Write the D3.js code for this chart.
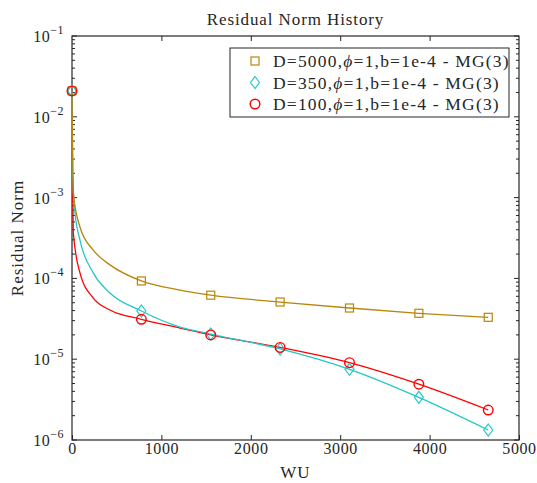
<!DOCTYPE html>
<html lang="en">
<head>
<meta charset="utf-8">
<title>Residual Norm History</title>
<script src="https://cdn.jsdelivr.net/npm/d3@7"></script>
<style>
  body { margin: 0; background: #fff; }
  text { font-family: "Liberation Serif", "DejaVu Serif", serif; fill: #262626; }
</style>
</head>
<body>
<div id="chart"></div>
<script>
// curve samples (WU, residual norm)
let wu5000 = [0, 8, 15, 89, 238, 425, 776, 1208, 1552, 2328, 3104, 3880, 4656]
let res5000 = [2.09e-2, 3.0e-3, 1.14e-3, 4.33e-4, 2.24e-4, 1.47e-4, 9.3e-5, 7.18e-5, 6.2e-5, 5.1e-5, 4.3e-5, 3.7e-5, 3.3e-5]
let wu350 = [0, 8, 34, 89, 238, 425, 776, 1208, 1552, 2328, 3104, 3880, 4656]
let res350 = [2.09e-2, 2.0e-3, 6.44e-4, 2.98e-4, 1.17e-4, 6.59e-5, 3.95e-5, 2.5e-5, 2.05e-5, 1.34e-5, 7.5e-6, 3.37e-6, 1.33e-6]
let wu100 = [8, 15, 89, 238, 425, 776, 1208, 1552, 2328, 3104, 3880, 4656]
let res100 = [1.8e-3, 3.65e-4, 1.17e-4, 5.71e-5, 4.06e-5, 3.12e-5, 2.43e-5, 2.0e-5, 1.40e-5, 9.06e-6, 4.9e-6, 2.35e-6]

// marker positions
let wuMarks = [0, 776, 1552, 2328, 3104, 3880, 4656]
let mark5000 = [2.09e-2, 9.3e-5, 6.2e-5, 5.1e-5, 4.3e-5, 3.7e-5, 3.3e-5]
let mark350 = [2.09e-2, 3.95e-5, 2.05e-5, 1.34e-5, 7.5e-6, 3.37e-6, 1.33e-6]
let mark100 = [2.09e-2, 3.12e-5, 2.0e-5, 1.40e-5, 9.06e-6, 4.9e-6, 2.35e-6]

let legendLabels = ["D=5000,", "D=350,", "D=100,"]
let xTicks = [0, 1000, 2000, 3000, 4000, 5000]
let yExps = [-1, -2, -3, -4, -5, -6]

let w = 537
let h = 483
let pLeft = 72, pRight = 519, pTop = 36, pBottom = 440

let xScale = d3.scaleLinear().domain([0, 5000]).range([pLeft, pRight])
let yScale = d3.scaleLog().domain([1e-6, 1e-1]).range([pBottom, pTop])

let svg = d3.select("#chart").append("svg")
  .attr("width", w).attr("height", h)

let axisColor = "#262626"

// box
svg.append("rect")
   .attr("x", pLeft).attr("y", pTop)
   .attr("width", pRight - pLeft).attr("height", pBottom - pTop)
   .attr("fill", "none").attr("stroke", axisColor).attr("stroke-width", 1.2)

// x ticks, inward on bottom and top
let xAxisB = d3.axisBottom(xScale).tickValues(xTicks).tickFormat(d3.format("d"))
  .tickSizeInner(-5).tickSizeOuter(0).tickPadding(3)
let gx = svg.append("g").attr("transform", "translate(0," + pBottom + ")").call(xAxisB)
gx.select(".domain").remove()
gx.selectAll("line").attr("stroke", axisColor)
gx.selectAll("text").attr("font-size", 16).attr("font-family", "Liberation Serif")
  .attr("fill", axisColor).attr("letter-spacing", 0.6)

let xAxisT = d3.axisTop(xScale).tickValues(xTicks.slice(1, -1)).tickSizeInner(-5).tickSizeOuter(0).tickFormat("")
let gxt = svg.append("g").attr("transform", "translate(0," + pTop + ")").call(xAxisT)
gxt.select(".domain").remove()
gxt.selectAll("line").attr("stroke", axisColor)

// y ticks: major at decades, minor at 2..9
let minor = []
for (let e = -6; e < -1; e++) {
  for (let m = 2; m <= 9; m++) minor.push(m * Math.pow(10, e))
}
let majors = yExps.map(function(e) { return Math.pow(10, e) })

;[pLeft, pRight].forEach(function(x0, i) {
  let dir = i == 0 ? 1 : -1
  svg.append("g").selectAll("line").data(majors).join("line")
     .attr("x1", x0).attr("x2", x0 + dir * 5)
     .attr("y1", function(d) { return yScale(d) }).attr("y2", function(d) { return yScale(d) })
     .attr("stroke", axisColor).attr("stroke-width", 1)
  svg.append("g").selectAll("line").data(minor).join("line")
     .attr("x1", x0).attr("x2", x0 + dir * 3)
     .attr("y1", function(d) { return yScale(d) }).attr("y2", function(d) { return yScale(d) })
     .attr("stroke", axisColor).attr("stroke-width", 1)
})

// y tick labels 10^e
let yl = svg.append("g").selectAll("text").data(yExps).join("text")
   .attr("x", 64).attr("y", function(d) { return yScale(Math.pow(10, d)) + 6 })
   .attr("text-anchor", "end").attr("font-size", 16)
yl.append("tspan").attr("letter-spacing", 0.5).text("10")
yl.append("tspan").attr("dy", -8).attr("font-size", 12).attr("letter-spacing", 0.5)
  .text(function(d) { return "\u2212" + (-d) })

// titles
svg.append("text").attr("x", (pLeft + pRight) / 2).attr("y", 25)
   .attr("text-anchor", "middle").attr("font-size", 17).attr("letter-spacing", 0.9)
   .text("Residual Norm History")
svg.append("text").attr("x", (pLeft + pRight) / 2).attr("y", 478)
   .attr("text-anchor", "middle").attr("font-size", 17).attr("letter-spacing", 1)
   .text("WU")
svg.append("text").attr("transform", "translate(23," + ((pTop + pBottom) / 2) + ") rotate(-90)")
   .attr("text-anchor", "middle").attr("font-size", 17).attr("letter-spacing", 1)
   .text("Residual Norm")

let series = [
  { wu: wu5000, res: res5000, mark: mark5000, color: "#b8860b", shape: "square" },
  { wu: wu350, res: res350, mark: mark350, color: "#22c8c8", shape: "diamond" },
  { wu: wu100, res: res100, mark: mark100, color: "#ff0000", shape: "circle" }
]

let line = d3.line()
  .x(function(d) { return xScale(d[0]) })
  .y(function(d) { return yScale(d[1]) })
  .curve(d3.curveMonotoneX)

// lines: red under cyan under brown
;[2, 1, 0].forEach(function(i) {
  let s = series[i]
  svg.append("path")
     .datum(d3.zip(s.wu, s.res))
     .attr("d", line)
     .attr("fill", "none")
     .attr("stroke", s.color)
     .attr("stroke-width", 1.3)
})

function drawMarker(g, shape, x, y, color) {
  if (shape == "square") {
    g.append("rect").attr("x", x - 4).attr("y", y - 4).attr("width", 8).attr("height", 8)
     .attr("fill", "none").attr("stroke", color).attr("stroke-width", 1.2)
  } else if (shape == "diamond") {
    g.append("path").attr("d", "M" + x + "," + (y - 6) + "L" + (x + 4.5) + "," + y + "L" + x + "," + (y + 6) + "L" + (x - 4.5) + "," + y + "Z")
     .attr("fill", "none").attr("stroke", color).attr("stroke-width", 1.2)
  } else {
    g.append("circle").attr("cx", x).attr("cy", y).attr("r", 4.8)
     .attr("fill", "none").attr("stroke", color).attr("stroke-width", 1.4)
  }
}

let gm = svg.append("g")
series.forEach(function(s) {
  wuMarks.forEach(function(wv, j) {
    drawMarker(gm, s.shape, xScale(wv), yScale(s.mark[j]), s.color)
  })
})

// legend
let lg = svg.append("g")
lg.append("rect").attr("x", 230).attr("y", 48).attr("width", 279).attr("height", 69)
  .attr("fill", "#fff").attr("stroke", axisColor).attr("stroke-width", 1)
series.forEach(function(s, i) {
  let yy = 61 + i * 21.5
  drawMarker(lg, s.shape, 255, yy, s.color)
  let t = lg.append("text").attr("x", 273).attr("y", yy + 6)
    .attr("font-size", 17.5).attr("letter-spacing", 1.2)
  t.append("tspan").text(legendLabels[i])
  t.append("tspan").attr("font-style", "italic").text("\u03d5")
  t.append("tspan").text("=1,b=1e-4 - MG(3)")
})
</script>
</body>
</html>
